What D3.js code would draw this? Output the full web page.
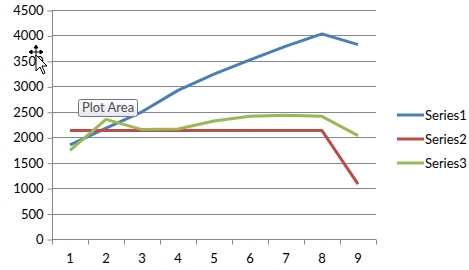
<!DOCTYPE html>
<html>
<head>
<meta charset="utf-8">
<script src="https://cdn.jsdelivr.net/npm/d3@7"></script>
<style>
  body { margin: 0; background: #fff; }
  svg { display: block; font-family: Lato, "Open Sans", sans-serif; }
</style>
</head>
<body>
<div id="chart"></div>
<script>
// chart values
const categories = ["1", "2", "3", "4", "5", "6", "7", "8", "9"];
const yTicks = [0, 500, 1000, 1500, 2000, 2500, 3000, 3500, 4000, 4500];
const seriesNames = ["Series1", "Series2", "Series3"];
const series1 = [1850, 2180, 2500, 2920, 3240, 3520, 3790, 4030, 3820];
const series2 = [2130, 2130, 2130, 2130, 2130, 2130, 2130, 2130, 1080];
const series3 = [1740, 2350, 2150, 2160, 2320, 2410, 2430, 2410, 2030];
const colors = ["#4a7ebb", "#be4b48", "#98b954"];

const width = 469, height = 270;
const margin = {top: 10, right: 93, bottom: 31, left: 52};

const svg = d3.select("#chart").append("svg")
    .attr("width", width)
    .attr("height", height);

const x = d3.scaleBand()
    .domain(categories)
    .range([margin.left, width - margin.right]);

const y = d3.scaleLinear()
    .domain([0, 4500])
    .range([height - margin.bottom, margin.top]);

// gridlines
svg.append("g")
    .selectAll("line")
    .data(yTicks.slice(1))
    .enter().append("line")
    .attr("x1", margin.left)
    .attr("x2", width - margin.right)
    .attr("y1", d => Math.round(y(d)) + 0.5)
    .attr("y2", d => Math.round(y(d)) + 0.5)
    .attr("stroke", "#868686");

// y axis
const yAxis = svg.append("g")
    .attr("transform", `translate(${margin.left + 0.5},0.5)`)
    .call(d3.axisLeft(y).tickValues(yTicks).tickFormat(d3.format("d")).tickSize(5).tickPadding(4));
yAxis.selectAll("line, path").attr("stroke", "#868686");
yAxis.select("path").attr("d", `M0,${y(4500)}V${y(0)}`);
yAxis.selectAll("text")
    .attr("font-size", 13).attr("fill", "#000")
    .attr("font-family", "Lato, 'Open Sans', sans-serif")
    .attr("transform", d => `translate(0,${Math.round(y(d)) - y(d)})`);

// x axis with ticks at category boundaries
const xAxisG = svg.append("g")
    .attr("transform", `translate(0,${Math.round(y(0)) + 0.5})`);
xAxisG.append("line")
    .attr("x1", margin.left).attr("x2", width - margin.right)
    .attr("stroke", "#868686");
xAxisG.selectAll(".tk")
    .data(categories.concat(["end"]))
    .enter().append("line")
    .attr("x1", (d, i) => Math.round(margin.left + i * x.bandwidth()) + 0.5)
    .attr("x2", (d, i) => Math.round(margin.left + i * x.bandwidth()) + 0.5)
    .attr("y1", 0).attr("y2", 5)
    .attr("stroke", "#868686");
xAxisG.selectAll("text")
    .data(categories)
    .enter().append("text")
    .attr("x", d => x(d) + x.bandwidth() / 2)
    .attr("y", 23)
    .attr("text-anchor", "middle")
    .attr("font-size", 13)
    .text(d => d);

// lines
const allSeries = [series1, series2, series3];
const line = d3.line()
    .x((d, i) => x(categories[i]) + x.bandwidth() / 2)
    .y(d => y(d));

svg.append("g")
    .selectAll("path")
    .data(allSeries)
    .enter().append("path")
    .attr("d", d => line(d))
    .attr("fill", "none")
    .attr("stroke", (d, i) => colors[i])
    .attr("stroke-width", 3)
    .attr("stroke-linejoin", "round");

// legend
const legend = svg.append("g")
    .attr("transform", "translate(397,115)");
const items = legend.selectAll("g")
    .data(seriesNames)
    .enter().append("g")
    .attr("transform", (d, i) => `translate(0,${i * 24})`);
items.append("line")
    .attr("x1", 0).attr("x2", 27)
    .attr("stroke", (d, i) => colors[i])
    .attr("stroke-width", 3);
items.append("text")
    .attr("x", 28).attr("dy", "0.35em")
    .attr("font-size", 13)
    .text(d => d);

// "Plot Area" tooltip
const defs = svg.append("defs");
const grad = defs.append("linearGradient")
    .attr("id", "tipGrad").attr("x1", 0).attr("x2", 0).attr("y1", 0).attr("y2", 1);
grad.append("stop").attr("offset", "0%").attr("stop-color", "#ffffff");
grad.append("stop").attr("offset", "100%").attr("stop-color", "#e4e5f0");

const tip = svg.append("g").attr("transform", "translate(78,99)");
tip.append("rect")
    .attr("x", 0.5).attr("y", 0.5)
    .attr("width", 59).attr("height", 17)
    .attr("rx", 2)
    .attr("fill", "url(#tipGrad)")
    .attr("stroke", "#767676");
tip.append("text")
    .attr("x", 30).attr("y", 13)
    .attr("text-anchor", "middle")
    .attr("font-size", 13)
    .attr("fill", "#4c4c4c")
    .text("Plot Area");

// mouse cursor (move cursor)
const cur = svg.append("g").attr("transform", "translate(36,49)");
cur.append("path")
    .attr("d", "M0,-2V8M-6,3H6M0,-4l-2,3h4zM-7,3l3,-2v4zM7,3l-3,-2v4z")
    .attr("stroke", "#000").attr("stroke-width", 1).attr("fill", "#000");
cur.append("path")
    .attr("d", "M0,6V22L4,18L7,25L9,24L6,17L11,17Z")
    .attr("fill", "#fff").attr("stroke", "#000").attr("stroke-width", 1);
</script>
</body>
</html>
